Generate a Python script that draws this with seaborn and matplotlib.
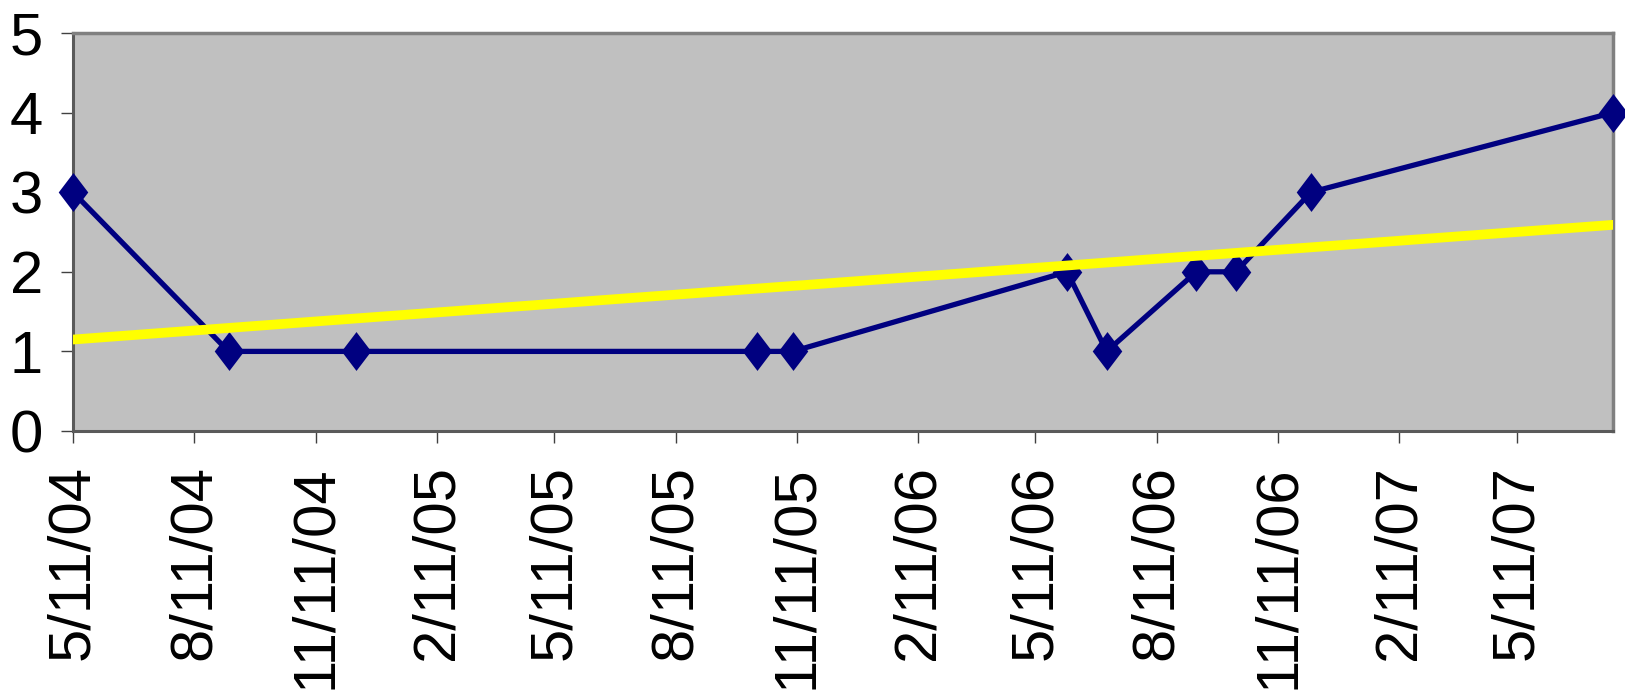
import numpy as np
import pandas as pd
import matplotlib
matplotlib.use("Agg")
import matplotlib.pyplot as plt
import matplotlib.dates as mdates
from matplotlib.path import Path
import seaborn as sns

# ---- data ----
obs_dates = ["2004-05-11", "2004-09-06", "2004-12-12", "2005-10-12", "2005-11-08",
             "2006-06-04", "2006-07-04", "2006-09-10", "2006-10-10", "2006-12-06",
             "2007-07-23"]
obs_values = [3, 1, 1, 1, 1, 2, 1, 2, 2, 3, 4]

tick_dates = ["2004-05-11", "2004-08-11", "2004-11-11", "2005-02-11", "2005-05-11",
              "2005-08-11", "2005-11-11", "2006-02-11", "2006-05-11", "2006-08-11",
              "2006-11-11", "2007-02-11", "2007-05-11"]
tick_labels = ["5/11/04", "8/11/04", "11/11/04", "2/11/05", "5/11/05", "8/11/05",
               "11/11/05", "2/11/06", "5/11/06", "8/11/06", "11/11/06", "2/11/07",
               "5/11/07"]
y_ticks = [0, 1, 2, 3, 4, 5]

# ---- style ----
sns.set_style("ticks")
plt.rcParams["font.family"] = ["Liberation Sans", "DejaVu Sans"]

x_num = mdates.date2num(pd.to_datetime(obs_dates))
df = pd.DataFrame({"x": x_num, "y": obs_values})

fig = plt.figure(figsize=(16.25, 6.99), dpi=100)
ax = fig.add_axes([0.0449, 0.3834, 0.9477, 0.5694])
ax.set_facecolor("#C0C0C0")

diamond = Path([(0, 1), (0.76, 0), (0, -1), (-0.76, 0), (0, 1)],
               [Path.MOVETO, Path.LINETO, Path.LINETO, Path.LINETO, Path.CLOSEPOLY])

sns.lineplot(data=df, x="x", y="y", ax=ax, color="#000080", linewidth=3.8,
             marker=diamond, markersize=28, markeredgewidth=0, zorder=3)
for ln in ax.lines:
    ln.set_clip_on(False)

sns.regplot(data=df, x="x", y="y", ax=ax, scatter=False, ci=None, truncate=True,
            line_kws={"color": "#FFFF00", "linewidth": 7, "zorder": 4,
                      "solid_capstyle": "round"})

ax.set_xlim(x_num[0], x_num[-1])
ax.set_ylim(0, 5)
ax.set_yticks(y_ticks)
ax.set_yticklabels([str(v) for v in y_ticks])
ax.set_xticks(mdates.date2num(pd.to_datetime(tick_dates)))
ax.set_xticklabels(tick_labels, rotation=90, va="top", ha="center")
ax.set_xlabel("")
ax.set_ylabel("")

ax.tick_params(axis="both", direction="out", length=8.5, width=1.0,
               color="#404040", labelsize=43, labelcolor="black")
ax.tick_params(axis="y", pad=13)
ax.tick_params(axis="x", pad=16)

for side in ["top", "right"]:
    ax.spines[side].set_visible(True)
    ax.spines[side].set_color("#808080")
    ax.spines[side].set_linewidth(2.5)
for side in ["left", "bottom"]:
    ax.spines[side].set_color("#5a5a5a")
    ax.spines[side].set_linewidth(2.2)
ax.grid(False)

fig.savefig("out.png", dpi=100)
